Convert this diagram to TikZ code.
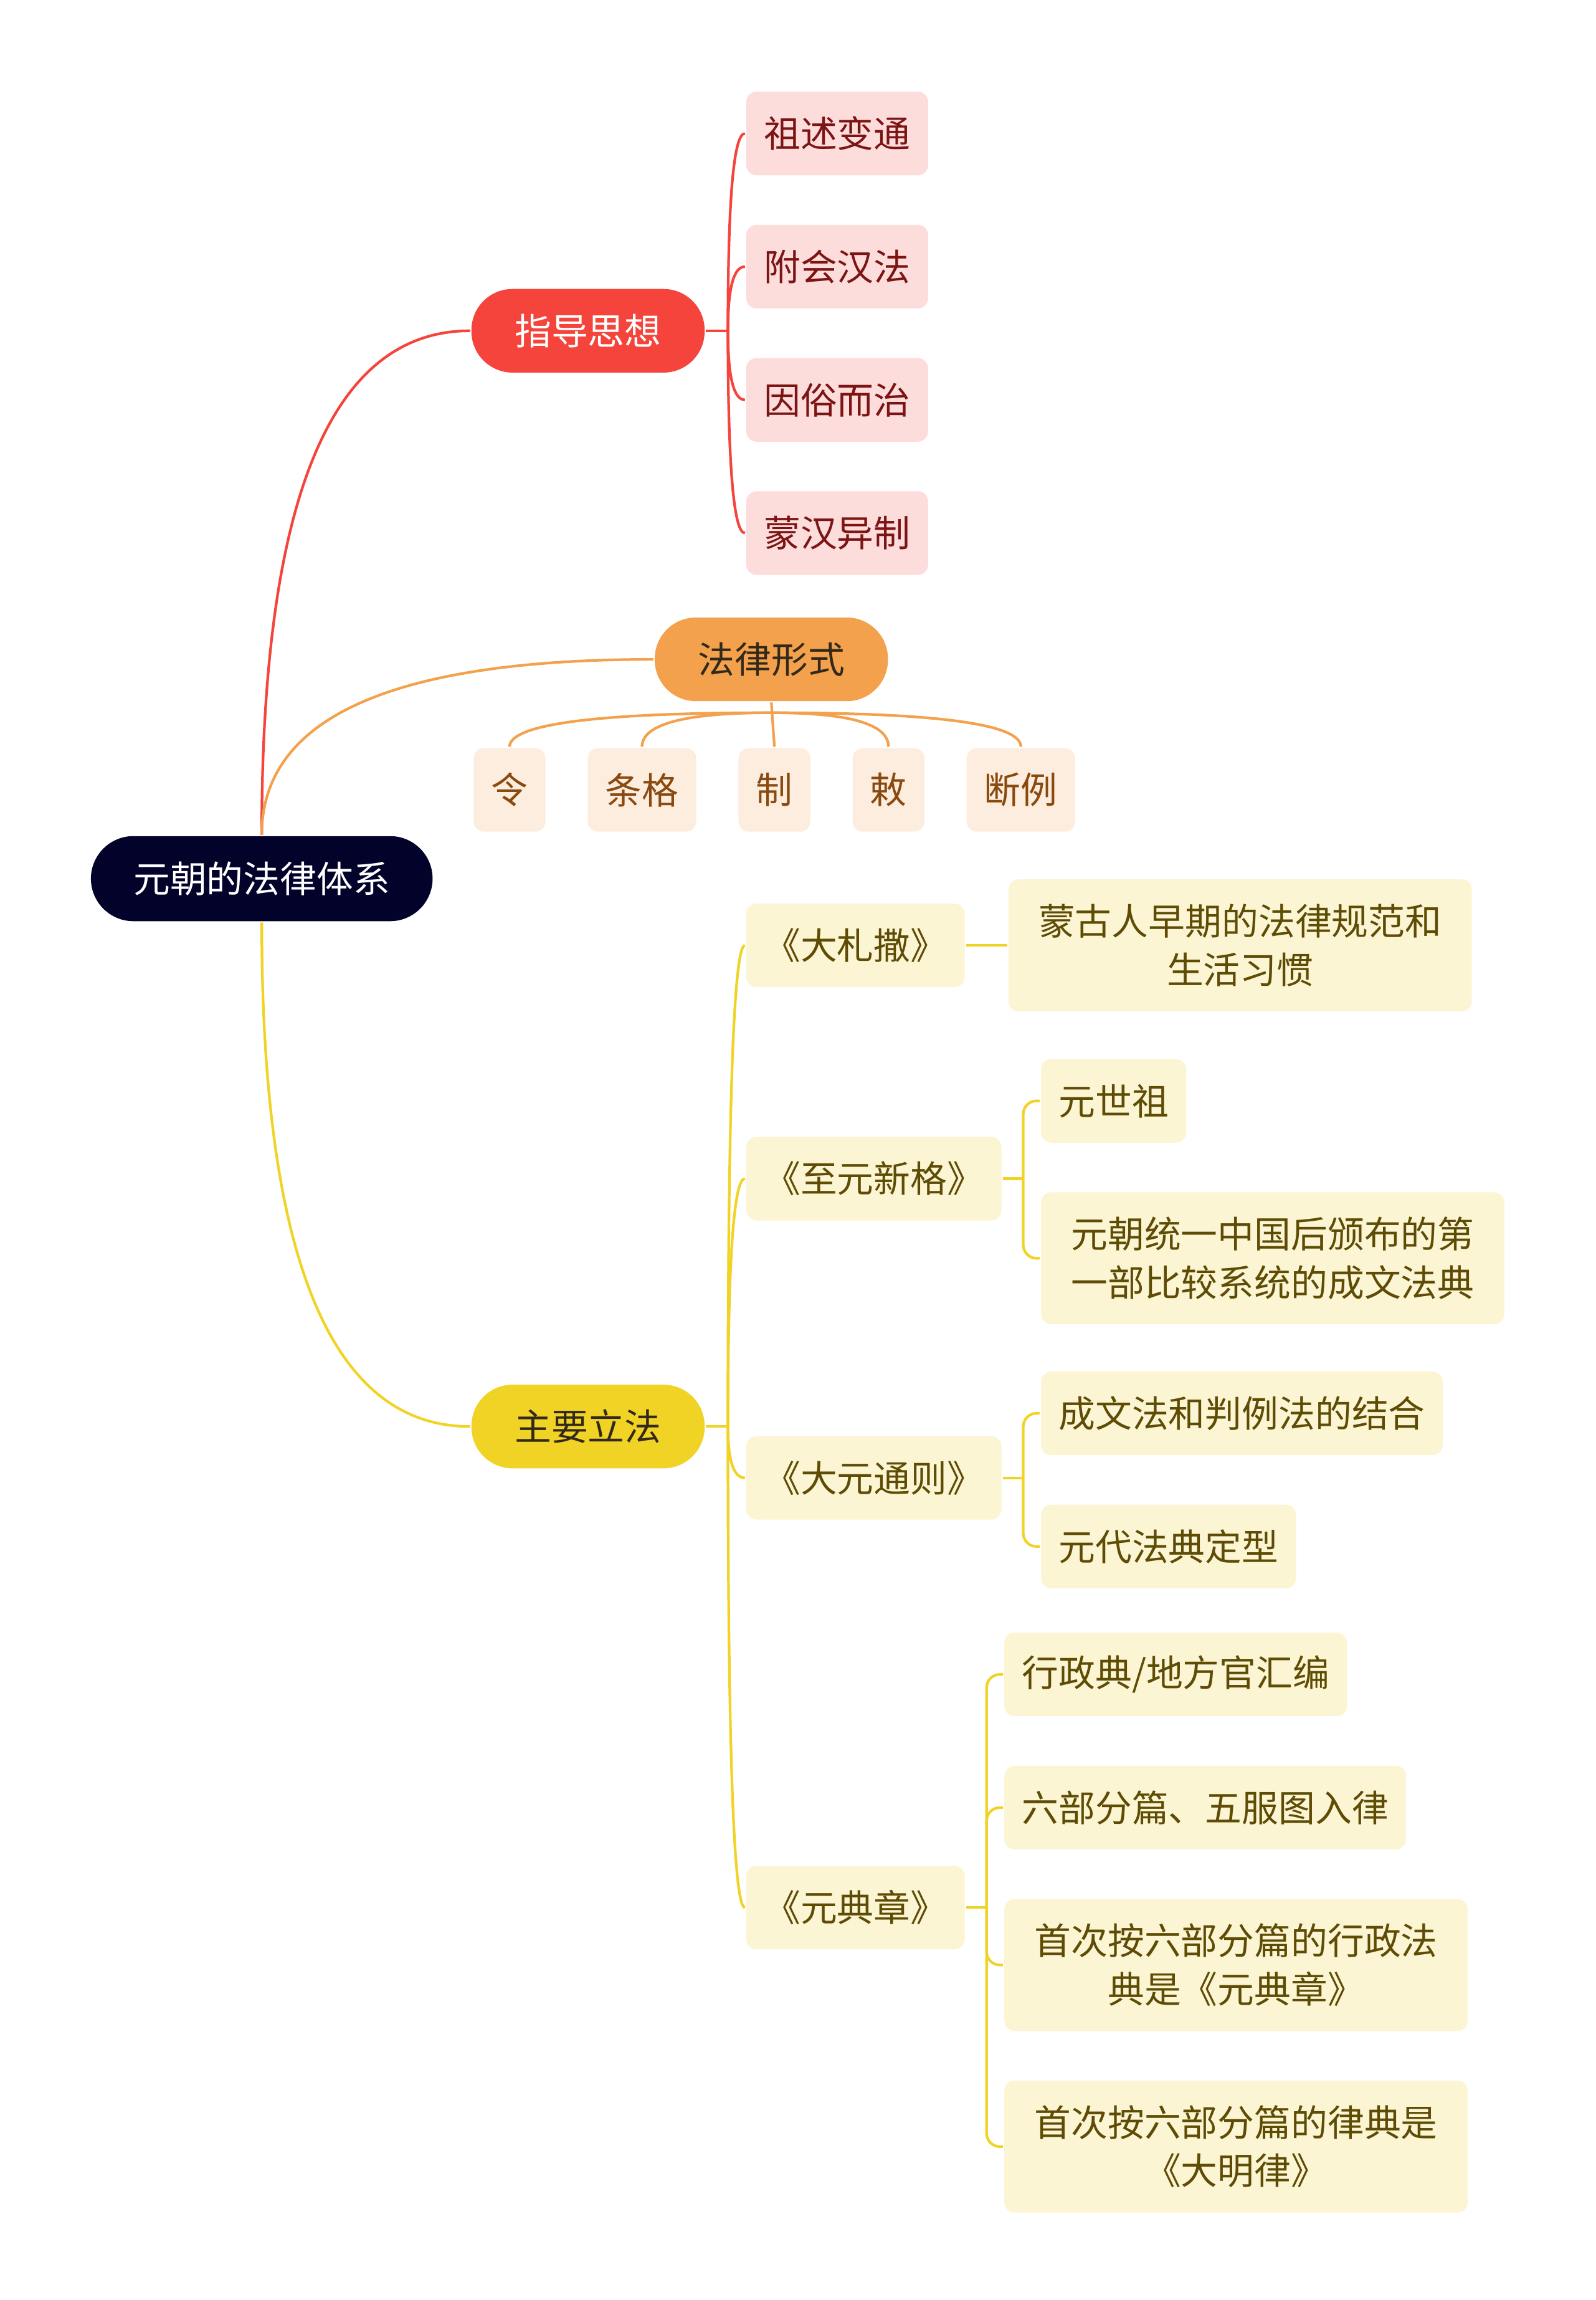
\documentclass[tikz,border=0pt]{standalone}
\usepackage{fontspec}
\usepackage{xcolor}
\usepackage{tikz}
\usetikzlibrary{positioning, calc}
\newfontfamily\cjk{Noto Sans CJK SC}
\definecolor{cnavy}{HTML}{02022B}
\definecolor{cred}{HTML}{F4443C}
\definecolor{credbg}{HTML}{FDDCDC}
\definecolor{credfg}{HTML}{7D1414}
\definecolor{corange}{HTML}{F3A14C}
\definecolor{corangebg}{HTML}{FDEDDE}
\definecolor{corangefg}{HTML}{8A4A0F}
\definecolor{cyellow}{HTML}{F1D326}
\definecolor{cyellowbg}{HTML}{FCF5D4}
\definecolor{cyellowfg}{HTML}{5E4C05}
\definecolor{cdark}{HTML}{33291A}
\tikzset{
    lawmap/.style={x=1pt, y=-1pt, line width=1.8pt, font=\cjk\fontsize{25}{33}\selectfont},
    rootbox/.style={fill=cnavy, text=white, rounded corners=29pt, minimum height=58pt, inner xsep=29pt, inner ysep=0pt},
    topic/.style={rounded corners=28pt, minimum height=57pt, inner xsep=29.5pt, inner ysep=0pt},
    leaf/.style={rounded corners=7pt, minimum height=57pt, inner xsep=12pt, inner ysep=0pt},
    note/.style={leaf, align=center, text width=280pt, inner xsep=18pt, minimum height=90pt},
    redleaf/.style={leaf, fill=credbg, text=credfg},
    orangeleaf/.style={leaf, fill=corangebg, text=corangefg},
    yellowleaf/.style={leaf, fill=cyellowbg, text=cyellowfg},
    yellownote/.style={note, fill=cyellowbg, text=cyellowfg},
    redline/.style={draw=cred},
    orangeline/.style={draw=corange},
    yellowline/.style={draw=cyellow},
    % link that leaves vertically and enters horizontally
    vcurve/.style={to path={.. controls ($(\tikztostart)!0.667!(\tikztostart |- \tikztotarget)$)
        and ($(\tikztotarget)!0.667!(\tikztostart |- \tikztotarget)$) .. (\tikztotarget)}},
    % link that leaves horizontally and enters vertically
    hcurve/.style={to path={.. controls ($(\tikztostart)!0.667!(\tikztotarget |- \tikztostart)$)
        and ($(\tikztotarget)!0.667!(\tikztotarget |- \tikztostart)$) .. (\tikztotarget)}},
    elbow/.style={rounded corners=9pt, to path={|- (\tikztotarget)}},
}
\begin{document}
\begin{tikzpicture}[lawmap]
    \useasboundingbox (0,0) rectangle (1088,1568);

    \node[rootbox]                                 (root)   at (178.5,599) {元朝的法律体系};
    \node[topic, fill=cred, text=white]            (zhidao) at (401,225.5) {指导思想};
    \node[topic, fill=corange, text=cdark]         (falv)   at (526,449.5) {法律形式};
    \node[topic, fill=cyellow, text=cdark]         (zhuyao) at (401,972.5) {主要立法};

    % 指导思想
    \node[redleaf, anchor=west]                               (zushu)   at (508,91) {祖述变通};
    \node[redleaf, below=32pt of zushu.south west, anchor=north west] (fuhui)   {附会汉法};
    \node[redleaf, below=32pt of fuhui.south west, anchor=north west] (yinsu)   {因俗而治};
    \node[redleaf, below=32pt of yinsu.south west, anchor=north west] (menghan) {蒙汉异制};

    % 法律形式
    \node[orangeleaf]                      (ling)   at (347.5,538.5) {令};
    \node[orangeleaf, right=27pt of ling]   (tiaoge) {条格};
    \node[orangeleaf, right=27pt of tiaoge] (zhi)    {制};
    \node[orangeleaf, right=27pt of zhi]    (chi)    {敕};
    \node[orangeleaf, right=27pt of chi]    (duanli) {断例};

    % 主要立法
    \node[yellowleaf, anchor=west] (dazhasa)  at (508,644.5)  {《大札撒》};
    \node[yellowleaf, anchor=west] (zhiyuan)  at (508,803.5)  {《至元新格》};
    \node[yellowleaf, anchor=west] (dayuan)   at (508,1007.5) {《大元通则》};
    \node[yellowleaf, anchor=west] (yuandian) at (508,1300.5) {《元典章》};

    \node[yellownote, right=28pt of dazhasa] (mengu) {蒙古人早期的法律规范和\\生活习惯};

    \node[yellowleaf, anchor=west] (shizu) at (709,750.5) {元世祖};
    \node[yellownote, below=32pt of shizu.south west, anchor=north west] (tongyi) {元朝统一中国后颁布的第\\一部比较系统的成文法典};

    \node[yellowleaf, anchor=west] (jiehe) at (709,963.5) {成文法和判例法的结合};
    \node[yellowleaf, below=32pt of jiehe.south west, anchor=north west] (dingxing) {元代法典定型};

    \node[yellowleaf, anchor=west] (huibian) at (684,1141.5) {行政典/地方官汇编};
    \node[yellowleaf, below=32pt of huibian.south west, anchor=north west] (liubu) {六部分篇、五服图入律};
    \node[yellownote, below=32pt of liubu.south west, anchor=north west] (xingzheng) {首次按六部分篇的行政法\\典是《元典章》};
    \node[yellownote, below=32pt of xingzheng.south west, anchor=north west] (daming) {首次按六部分篇的律典是\\《大明律》};

    % links from the root
    \draw[redline, vcurve]    (root.north) to (zhidao.west);
    \draw[orangeline, vcurve] (root.north) to (falv.west);
    \draw[yellowline, vcurve] (root.south) to (zhuyao.west);

    \coordinate (jz) at ($(zhidao.east)+(15,0)$);
    \draw[redline] (zhidao.east) -- (jz);
    \foreach \n in {zushu, fuhui, yinsu, menghan}
        \draw[redline, vcurve] (jz) to (\n.west);

    \coordinate (jf) at ($(falv.south)+(0,7)$);
    \draw[orangeline] (falv.south) -- (zhi.north);
    \foreach \n in {ling, tiaoge, chi, duanli}
        \draw[orangeline, hcurve] (jf) to (\n.north);

    \coordinate (jy) at ($(zhuyao.east)+(15,0)$);
    \draw[yellowline] (zhuyao.east) -- (jy);
    \foreach \n in {dazhasa, zhiyuan, dayuan, yuandian}
        \draw[yellowline, vcurve] (jy) to (\n.west);

    \draw[yellowline] (dazhasa.east) -- (mengu.west);

    \coordinate (jzy) at ($(zhiyuan.east)+(14,0)$);
    \draw[yellowline] (zhiyuan.east) -- (jzy);
    \foreach \n in {shizu, tongyi}
        \draw[yellowline, elbow] (jzy) to (\n.west);

    \coordinate (jdy) at ($(dayuan.east)+(14,0)$);
    \draw[yellowline] (dayuan.east) -- (jdy);
    \foreach \n in {jiehe, dingxing}
        \draw[yellowline, elbow] (jdy) to (\n.west);

    \coordinate (jyd) at ($(yuandian.east)+(14,0)$);
    \draw[yellowline] (yuandian.east) -- (jyd);
    \foreach \n in {huibian, liubu, xingzheng, daming}
        \draw[yellowline, elbow] (jyd) to (\n.west);
\end{tikzpicture}
\end{document}
